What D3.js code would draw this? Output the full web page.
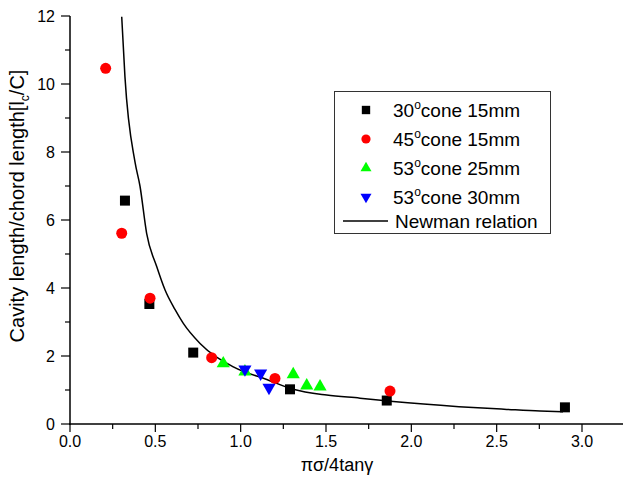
<!DOCTYPE html>
<html>
<head>
<meta charset="utf-8">
<script src="https://cdn.jsdelivr.net/npm/d3@7"></script>
<style>
  body { margin: 0; background: #fff; }
  text { font-family: Arial, "Liberation Sans", sans-serif; }
</style>
</head>
<body>
<div id="chart"></div>
<script>
// data
var cone30X = [0.322, 0.465, 0.722, 1.289, 1.856, 2.90],
    cone30Y = [6.57, 3.53, 2.10, 1.02, 0.69, 0.49];
var cone45X = [0.209, 0.303, 0.469, 0.830, 1.201, 1.875],
    cone45Y = [10.46, 5.61, 3.70, 1.95, 1.34, 0.97];
var cone53aX = [0.898, 1.025, 1.308, 1.387, 1.465],
    cone53aY = [1.78, 1.54, 1.46, 1.13, 1.10];
var cone53bX = [1.025, 1.117, 1.166],
    cone53bY = [1.61, 1.49, 1.07];
var newmanX = [0.303, 0.322, 0.381, 0.410, 0.449, 0.508, 0.557, 0.615, 0.664, 0.762, 0.957, 1.153, 1.308, 1.504, 1.699, 1.894, 2.279, 2.559, 2.754, 2.889],
    newmanY = [11.98, 10.21, 7.7, 7.0, 5.61, 4.63, 3.94, 3.37, 2.96, 2.37, 1.68, 1.31, 1.02, 0.85, 0.76, 0.66, 0.51, 0.43, 0.38, 0.36];
var xTicks = [0, 0.5, 1.0, 1.5, 2.0, 2.5, 3.0],
    yTicks = [0, 2, 4, 6, 8, 10, 12];
var legendNames = ["30", "45", "53", "53"],
    legendRest = ["cone 15mm", "cone 15mm", "cone 25mm", "cone 30mm"];

var width = 623, height = 479;

var svg = d3.select("#chart").append("svg")
    .attr("width", width)
    .attr("height", height);

var x = d3.scaleLinear().domain([0, 3]).range([70, 582]);
var y = d3.scaleLinear().domain([0, 12]).range([424, 16]);

// newman curve
var line = d3.line()
    .x(function (d) { return x(d[0]); })
    .y(function (d) { return y(d[1]); })
    .curve(d3.curveMonotoneX);

svg.append("path")
    .datum(d3.zip(newmanX, newmanY))
    .attr("d", line)
    .attr("fill", "none")
    .attr("stroke", "#000")
    .attr("stroke-width", 1.5);

// scatter series
var series = [
    { xs: cone30X, ys: cone30Y, sym: d3.symbolSquare, size: 100, color: "#000000", rot: 0 },
    { xs: cone45X, ys: cone45Y, sym: d3.symbolCircle, size: 95, color: "#ff0000", rot: 0 },
    { xs: cone53aX, ys: cone53aY, sym: d3.symbolTriangle, size: 75, color: "#00ff00", rot: 0 },
    { xs: cone53bX, ys: cone53bY, sym: d3.symbolTriangle, size: 75, color: "#0000ff", rot: 180 }
];

series.forEach(function (s) {
    svg.append("g")
        .selectAll("path")
        .data(d3.zip(s.xs, s.ys))
        .enter().append("path")
        .attr("d", d3.symbol().type(s.sym).size(s.size))
        .attr("transform", function (d) {
            return "translate(" + x(d[0]) + "," + y(d[1]) + ") rotate(" + s.rot + ")";
        })
        .attr("fill", s.color);
});

// x axis
var minorX = d3.range(0, 3.26, 0.25);
svg.append("line")
    .attr("x1", 69).attr("x2", 623)
    .attr("y1", 424).attr("y2", 424)
    .attr("stroke", "#000").attr("stroke-width", 1.5);
svg.append("g").selectAll("line")
    .data(minorX)
    .enter().append("line")
    .attr("x1", function (d) { return x(d); })
    .attr("x2", function (d) { return x(d); })
    .attr("y1", 424)
    .attr("y2", function (d, i) { return i % 2 == 0 ? 432 : 429; })
    .attr("stroke", "#000").attr("stroke-width", 1.2);
svg.append("g").selectAll("text")
    .data(xTicks)
    .enter().append("text")
    .attr("x", function (d) { return x(d); })
    .attr("y", 447)
    .attr("text-anchor", "middle")
    .style("font-size", "16px")
    .text(function (d) { return d3.format(".1f")(d); });

// y axis
var minorY = d3.range(0, 12.1, 1);
svg.append("line")
    .attr("x1", 70).attr("x2", 70)
    .attr("y1", 16).attr("y2", 425)
    .attr("stroke", "#000").attr("stroke-width", 1.5);
svg.append("g").selectAll("line")
    .data(minorY)
    .enter().append("line")
    .attr("x1", function (d, i) { return i % 2 == 0 ? 61 : 65; })
    .attr("x2", 70)
    .attr("y1", function (d) { return y(d); })
    .attr("y2", function (d) { return y(d); })
    .attr("stroke", "#000").attr("stroke-width", 1.2);
svg.append("g").selectAll("text")
    .data(yTicks)
    .enter().append("text")
    .attr("x", 55)
    .attr("y", function (d) { return y(d) + 6; })
    .attr("text-anchor", "end")
    .style("font-size", "16px")
    .text(function (d) { return d; });

// axis titles
svg.append("text")
    .attr("x", 337)
    .attr("y", 471)
    .attr("text-anchor", "middle")
    .style("font-size", "18px")
    .text("πσ/4tanγ");

var yTitle = svg.append("text")
    .attr("transform", "translate(24,206) rotate(-90)")
    .attr("text-anchor", "middle")
    .style("font-size", "20px");
yTitle.append("tspan").text("Cavity length/chord length[l");
yTitle.append("tspan").attr("dy", 5).style("font-size", "12px").text("c");
yTitle.append("tspan").attr("dy", -5).text("/C]");

// legend
var legend = svg.append("g");
legend.append("rect")
    .attr("x", 334.5).attr("y", 91.5)
    .attr("width", 216).attr("height", 142)
    .attr("fill", "#fff")
    .attr("stroke", "#333").attr("stroke-width", 1);

var legRows = [110, 139, 168, 197];
series.forEach(function (s, i) {
    legend.append("path")
        .attr("d", d3.symbol().type(s.sym).size(s.size * 0.7))
        .attr("transform", "translate(366," + legRows[i] + ") rotate(" + s.rot + ")")
        .attr("fill", s.color);
    var t = legend.append("text")
        .attr("x", 393)
        .attr("y", legRows[i] + 7)
        .style("font-size", "19px");
    t.append("tspan").text(legendNames[i]);
    t.append("tspan").attr("dy", -8).style("font-size", "12px").text("o");
    t.append("tspan").attr("dy", 8).text(legendRest[i]);
});
legend.append("line")
    .attr("x1", 343).attr("x2", 388)
    .attr("y1", 221).attr("y2", 221)
    .attr("stroke", "#000").attr("stroke-width", 1.5);
legend.append("text")
    .attr("x", 395)
    .attr("y", 228)
    .style("font-size", "19px")
    .text("Newman relation");
</script>
</body>
</html>
